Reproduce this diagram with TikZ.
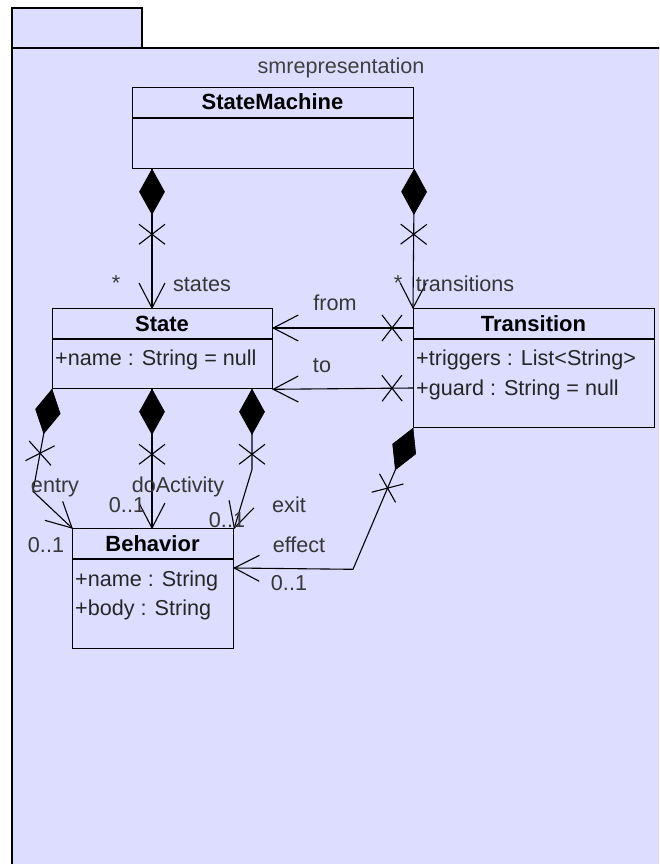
\documentclass[tikz,border=0pt]{standalone}
\usepackage{fontspec}
\setmainfont{Liberation Sans}
\usetikzlibrary{decorations.markings}

\definecolor{pkgfill}{RGB}{221,221,255}
\definecolor{labelgray}{RGB}{55,55,55}

\tikzset{
  x=1pt, y=-1pt,
  pkg/.style={draw=black, line width=1.5pt, fill=pkgfill},
  classbox/.style={draw=black, line width=1.3pt, fill=pkgfill, inner sep=0pt,
    anchor=north west},
  divider/.style={draw=black, line width=1.3pt},
  umltext/.style={font=\fontsize{21.6}{25}\selectfont, inner sep=0pt,
    text height=15pt, text depth=0pt},
  title/.style={umltext, font=\fontsize{22}{25}\selectfont\bfseries, text=black},
  attr/.style={umltext, anchor=west, text=black!85},
  lbl/.style={umltext, text=labelgray},
  conn/.style={draw=black, line width=1.1pt},
  % composition end: filled diamond, then the non-navigable cross, open arrow at the target
  composite/.style={conn, postaction={decorate}, decoration={markings,
    mark=at position 0 with {\filldraw[line width=0.6pt] (0,0) -- (22.5,12.5) -- (45,0) -- (22.5,-12.5) -- cycle;},
    mark=at position 65pt with {\draw (-10,-13) -- (10,13) (-10,13) -- (10,-13);},
    mark=at position 1 with {\draw (-25,-13) -- (0,0) -- (-25,13);}}},
  % plain association: cross near the source, open arrow at the target
  navassoc/.style={conn, postaction={decorate}, decoration={markings,
    mark=at position 21pt with {\draw (-10,-13) -- (10,13) (-10,13) -- (10,-13);},
    mark=at position 1 with {\draw (-25,-13) -- (0,0) -- (-25,13);}}},
}

\begin{document}
\begin{tikzpicture}
\useasboundingbox (0,0) rectangle (659,864);
\clip (0,0) rectangle (659,864);

% package frame
\draw[pkg] (12,8) rectangle (142,48);
\draw[pkg] (12,48) rectangle (700,900);
\node[lbl, text=black!75] (pkgname) at (341,66) {smrepresentation};

% classes
\node[classbox, minimum width=281pt, minimum height=81pt] (sm) at (132,87) {};
\draw[divider] ([yshift=-31pt]sm.north west) -- ([yshift=-31pt]sm.north east);
\node[title] (smT) at (272.5,102) {StateMachine};

\node[classbox, minimum width=220pt, minimum height=80pt] (st) at (52,308) {};
\draw[divider] ([yshift=-31pt]st.north west) -- ([yshift=-31pt]st.north east);
\node[title] (stT) at (162,323.5) {State};
\node[attr] (stA1) at (55,358) {+name : String = null};

\node[classbox, minimum width=241pt, minimum height=119pt] (tr) at (413,308) {};
\draw[divider] ([yshift=-31pt]tr.north west) -- ([yshift=-31pt]tr.north east);
\node[title] (trT) at (533.5,323.5) {Transition};
\node[attr] (trA1) at (416,358) {+triggers : List<String>};
\node[attr] (trA2) at (416,388) {+guard : String = null};

\node[classbox, minimum width=161pt, minimum height=120pt] (bh) at (72,528) {};
\draw[divider] ([yshift=-31pt]bh.north west) -- ([yshift=-31pt]bh.north east);
\node[title] (bhT) at (152.5,543.5) {Behavior};
\node[attr] (bhA1) at (75,579) {+name : String};
\node[attr] (bhA2) at (75,608) {+body : String};

% compositions
\draw[composite] ([xshift=20pt]sm.south west) -- ([xshift=100pt]st.north west);
\draw[composite] (sm.south east) -- (tr.north west);
\draw[composite] (st.south west) -- ++(-19,102) -- (bh.north west);
\draw[composite] ([xshift=100pt]st.south west) -- ([xshift=80pt]bh.north west);
\draw[composite] ([xshift=200pt]st.south west) -- ++(0,80) -- (bh.north east);
\draw[composite] (tr.south west) -- ++(-60,141) -- ([yshift=-40pt]bh.north east);

% associations between Transition and State
\draw[navassoc] ([yshift=-20pt]tr.north west) -- ([yshift=-20pt]st.north east);
\draw[navassoc] ([yshift=-80pt]tr.north west) -- (st.south east);

% role names and multiplicities
\node[lbl] (m1) at (116,283) {*};
\node[lbl] (r1) at (202,284) {states};
\node[lbl] (m2) at (398,283) {*};
\node[lbl] (r2) at (465,284) {transitions};
\node[lbl] (r3) at (335,303) {from};
\node[lbl] (r4) at (322,365) {to};
\node[lbl] (r5) at (55,485) {entry};
\node[lbl] (r6) at (178,485) {doActivity};
\node[lbl] (m6) at (127,505) {0..1};
\node[lbl] (m5) at (46,545) {0..1};
\node[lbl] (r7) at (289,505) {exit};
\node[lbl] (m7) at (227,520) {0..1};
\node[lbl] (r8) at (299,545) {effect};
\node[lbl] (m8) at (289,583) {0..1};
\end{tikzpicture}
\end{document}
